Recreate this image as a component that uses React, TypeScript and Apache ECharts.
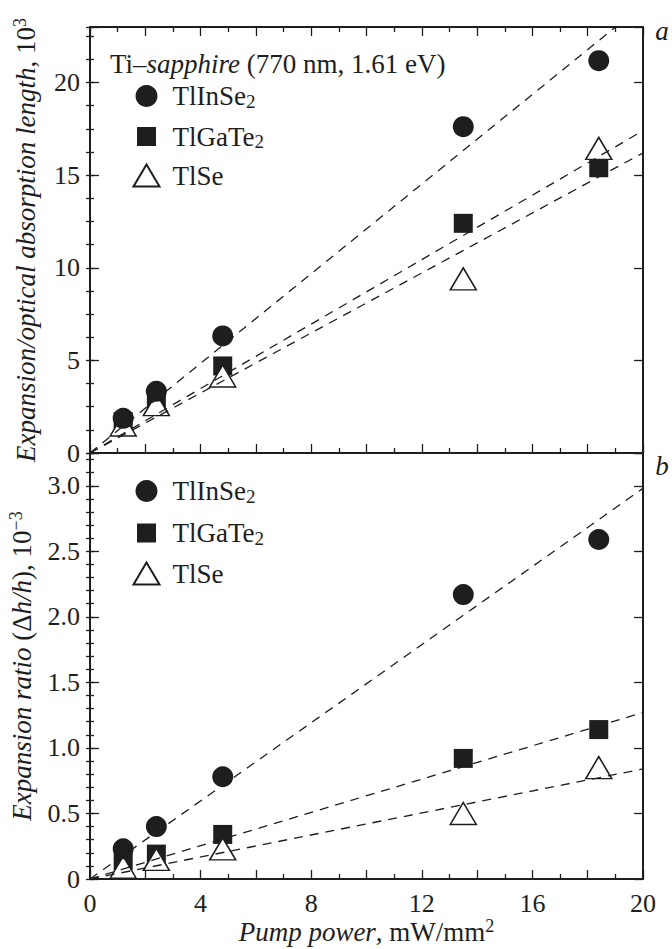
import React, { useEffect, useRef } from "react";
import * as echarts from "echarts";

const FONT = "Liberation Serif";
const INK = "#1e1e1e";

// ---- data ----
const seriesNames = ["TlInSe2", "TlGaTe2", "TlSe"];
const pumpPower = [1.2, 2.4, 4.8, 13.5, 18.4];
// panel a: expansion / optical absorption length, 10^3
const aTlInSe2 = [1.87, 3.33, 6.32, 17.62, 21.18];
const aTlGaTe2 = [1.7, 2.9, 4.7, 12.4, 15.4];
const aTlSe = [1.51, 2.61, 4.16, 9.4, 16.45];
// panel b: expansion ratio (dh/h), 10^-3
const bTlInSe2 = [0.23, 0.4, 0.78, 2.17, 2.59];
const bTlGaTe2 = [0.14, 0.19, 0.34, 0.92, 1.14];
const bTlSe = [0.09, 0.15, 0.23, 0.5, 0.85];
// dashed linear fits: value at x = 0 and at x = 20
const fitX = [0, 20];
const aFitTlInSe2 = [0, 24.2];
const aFitTlGaTe2 = [0, 17.4];
const aFitTlSe = [0, 16.2];
const bFitTlInSe2 = [0, 2.98];
const bFitTlGaTe2 = [0, 1.27];
const bFitTlSe = [0, 0.84];
// tick labels
const xTickLabels = [0, 4, 8, 12, 16, 20];
const aYTickLabels = [0, 5, 10, 15, 20];
const bYTickLabels = [0, 0.5, 1.0, 1.5, 2.0, 2.5, 3.0];

const near = (arr: number[], v: number) => arr.some((t) => Math.abs(t - v) < 1e-6);

const markerStyle: Record<string, any> = {
  TlInSe2: { symbol: "circle", symbolSize: 21, itemStyle: { color: INK, opacity: 1 } },
  TlGaTe2: { symbol: "rect", symbolSize: 19, itemStyle: { color: INK, opacity: 1 } },
  TlSe: {
    symbol: "triangle",
    symbolSize: [26, 22],
    itemStyle: { color: "#ffffff", borderColor: INK, borderWidth: 1.5, opacity: 1 },
  },
};

const tickLine = { color: INK, width: 1.3 };
const axisLineDef = { show: true, onZero: false, lineStyle: { color: INK, width: 2 } };

const richBase = {
  i: { fontFamily: FONT, fontSize: 27, fontStyle: "italic", color: INK, lineHeight: 30 },
  sup: { fontFamily: FONT, fontSize: 18, color: INK, padding: [0, 0, 12, 0], lineHeight: 30 },
  sub: { fontFamily: FONT, fontSize: 19, color: INK, padding: [10, 0, 0, 0], lineHeight: 30 },
};
const textBase = { fontFamily: FONT, fontSize: 27, color: INK, lineHeight: 30, rich: richBase };

function xAxisDef(gridIndex: number, position: string, withLabels: boolean, withTicks: boolean) {
  const ax: any = {
    gridIndex,
    type: "value",
    position,
    min: 0,
    max: 20,
    interval: 2,
    axisLine: axisLineDef,
    axisTick: { show: withTicks, inside: true, length: 9, lineStyle: tickLine },
    minorTick: { show: withTicks, splitNumber: 2, length: 5, lineStyle: tickLine },
    axisLabel: { show: false },
    splitLine: { show: false },
    minorSplitLine: { show: false },
  };
  if (withLabels) {
    ax.axisLabel = {
      show: true,
      margin: 11,
      fontFamily: FONT,
      fontSize: 26,
      color: INK,
      formatter: (v: number) => (near(xTickLabels, v) ? String(v) : ""),
    };
    ax.name = "{i|Pump power}, mW/mm{sup|2}";
    ax.nameLocation = "middle";
    ax.nameGap = 38;
    ax.nameTextStyle = textBase;
  }
  return ax;
}

function yAxisDef(
  gridIndex: number,
  position: string,
  max: number,
  interval: number,
  tickLen: number,
  showLine: boolean,
  labels?: { list: number[]; fmt: (v: number) => string; name: string }
) {
  const ax: any = {
    gridIndex,
    type: "value",
    position,
    min: 0,
    max,
    interval,
    axisLine: showLine ? axisLineDef : { show: false },
    axisTick: { show: true, inside: true, length: tickLen, lineStyle: tickLine },
    axisLabel: { show: false },
    splitLine: { show: false },
  };
  if (labels) {
    ax.axisLabel = {
      show: true,
      margin: 10,
      fontFamily: FONT,
      fontSize: 26,
      color: INK,
      formatter: (v: number) => (near(labels.list, v) ? labels.fmt(v) : ""),
    };
    ax.name = labels.name;
    ax.nameLocation = "middle";
    ax.nameRotate = 90;
    ax.nameGap = 49;
    ax.nameTextStyle = textBase;
  }
  return ax;
}

function panelSeries(
  xAxisIndex: number,
  yAxisIndex: number,
  values: number[][],
  fits: number[][]
) {
  const out: any[] = [];
  seriesNames.forEach((name, k) => {
    out.push({
      name: name + " fit",
      type: "line",
      xAxisIndex,
      yAxisIndex,
      data: fitX.map((x, i) => [x, fits[k][i]]),
      symbol: "none",
      silent: true,
      clip: true,
      lineStyle: { color: INK, width: 1.3, type: [9, 7] },
    });
  });
  // draw order: squares, triangles, circles on top
  [1, 2, 0].forEach((k) => {
    const name = seriesNames[k];
    out.push({
      name,
      type: "scatter",
      xAxisIndex,
      yAxisIndex,
      data: pumpPower.map((x, i) => [x, values[k][i]]),
      ...markerStyle[name],
    });
  });
  return out;
}

// square icon of 19 px inside a 26 x 22 legend box
const squareIcon = "path://M26 22M0 0M3.5 1.5H22.5V20.5H3.5Z";

function legendDef(top: number, itemGap: number) {
  return {
    data: [
      { name: seriesNames[0] },
      { name: seriesNames[1], icon: squareIcon },
      { name: seriesNames[2] },
    ],
    orient: "vertical",
    left: 132.5,
    top,
    padding: 0,
    itemWidth: 26,
    itemHeight: 22,
    itemGap,
    selectedMode: false,
    itemStyle: { opacity: 1 },
    textStyle: {
      fontFamily: FONT,
      fontSize: 27,
      color: INK,
      lineHeight: 26,
      padding: [0, 0, 0, 8],
      rich: richBase,
    },
    formatter: (name: string) => name.replace(/(\d)$/, "{sub|$1}"),
  };
}

export default function App() {
  const ref = useRef<HTMLDivElement>(null);
  useEffect(() => {
    if (!ref.current) return;
    const chart = echarts.init(ref.current, null, { renderer: "svg" });
    const fmtB = (v: number) => (v === 0 ? "0" : v.toFixed(1));
    const option: any = {
      animation: false,
      backgroundColor: "#ffffff",
      textStyle: { fontFamily: FONT },
      grid: [
        { left: 90, top: 27, width: 553, height: 426, outerBoundsMode: "none" },
        { left: 90, top: 453, width: 553, height: 426, outerBoundsMode: "none" },
      ],
      xAxis: [
        xAxisDef(0, "bottom", false, true),
        xAxisDef(0, "top", false, true),
        xAxisDef(1, "bottom", true, true),
        xAxisDef(1, "top", false, false),
      ],
      yAxis: [
        yAxisDef(0, "left", 23, 5, 9, true, {
          list: aYTickLabels,
          fmt: (v) => String(v),
          name: "{i|Expansion/optical absorption length}, 10{sup|3}",
        }),
        yAxisDef(0, "left", 23, 1.25, 4, false),
        yAxisDef(0, "right", 23, 5, 9, true),
        yAxisDef(0, "right", 23, 1.25, 4, false),
        yAxisDef(1, "left", 3.25, 0.5, 9, true, {
          list: bYTickLabels,
          fmt: fmtB,
          name: "{i|Expansion ratio} (\u0394{i|h/h}), 10{sup|\u22123}",
        }),
        yAxisDef(1, "left", 3.25, 0.1, 4, false),
        yAxisDef(1, "right", 3.25, 0.5, 9, true),
        yAxisDef(1, "right", 3.25, 0.1, 4, false),
      ],
      legend: [legendDef(81, 10.5), legendDef(476, 12)],
      series: [
        ...panelSeries(0, 0, [aTlInSe2, aTlGaTe2, aTlSe], [aFitTlInSe2, aFitTlGaTe2, aFitTlSe]),
        ...panelSeries(2, 4, [bTlInSe2, bTlGaTe2, bTlSe], [bFitTlInSe2, bFitTlGaTe2, bFitTlSe]),
      ],
      graphic: [
        {
          type: "text",
          x: 110,
          y: 64,
          style: {
            text: "Ti\u2013{i|sapphire} (770 nm, 1.61 eV)",
            fontFamily: FONT,
            fontSize: 27,
            fill: INK,
            align: "left",
            verticalAlign: "middle",
            rich: { i: { fontFamily: FONT, fontSize: 27, fontStyle: "italic", fill: INK } },
          },
        },
        {
          type: "text",
          x: 662,
          y: 31,
          style: { text: "a", fontFamily: FONT, fontSize: 27, fontStyle: "italic", fill: INK, align: "center", verticalAlign: "middle" },
        },
        {
          type: "text",
          x: 662,
          y: 466,
          style: { text: "b", fontFamily: FONT, fontSize: 27, fontStyle: "italic", fill: INK, align: "center", verticalAlign: "middle" },
        },
      ],
    };
    chart.setOption(option);
    return () => chart.dispose();
  }, []);
  return (
    <div
      ref={ref}
      style={{ position: "absolute", left: 0, top: 0, width: 672, height: 949, background: "#fff" }}
    />
  );
}
